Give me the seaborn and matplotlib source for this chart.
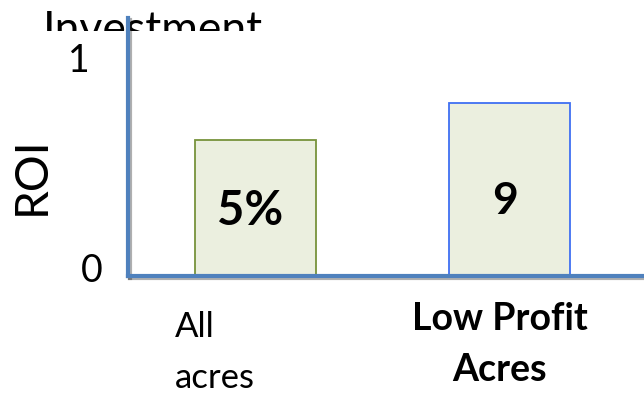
import matplotlib
matplotlib.use("Agg")
import matplotlib.pyplot as plt
import matplotlib.patheffects as pe
from matplotlib.transforms import ScaledTranslation, Bbox, TransformedBbox
import seaborn as sns
import pandas as pd

# ---- data ----
categories = ["All acres", "Low Profit Acres"]
tick_labels = ["All\nacres", "Low Profit\nAcres"]
roi_values = [0.62, 0.79]
bar_labels = ["5%", "9"]
ytick_values = [0, 1]
ytick_labels = ["0", "1"]

FILL = "#EBEFDF"
EDGES = ["#77933C", "#3F6FF2"]
AXIS = "#4F81BD"

sns.set_theme(style="white")
plt.rcParams["font.family"] = ["Lato", "DejaVu Sans"]

fig = plt.figure(figsize=(6.44, 3.94), dpi=100)
W, H = 644, 394
ax = fig.add_axes([128 / W, (H - 276) / H, (644 - 128) / W, (276 - 18) / H])
ax.patch.set_visible(False)

df = pd.DataFrame({"cat": categories, "roi": roi_values})
sns.barplot(data=df, x="cat", y="roi", hue="cat", palette=[FILL, FILL],
            width=0.475, legend=False, ax=ax, linewidth=1.3, saturation=1)
for p, ec in zip(ax.patches, EDGES):
    p.set_edgecolor(ec)
    p.set_linewidth(1.3)

ax.set_xlim(-0.501, 1.527)
ax.set_ylim(0, 258 / 219)

for s in ["top", "right"]:
    ax.spines[s].set_visible(False)
for s in ["left", "bottom"]:
    ax.spines[s].set_color(AXIS)
    ax.spines[s].set_linewidth(3)
    ax.spines[s].set_path_effects([pe.SimpleLineShadow(offset=(1.5, -1.5), alpha=0.35), pe.Normal()])
    ax.spines[s].set_zorder(3)

ax.set_xlabel("")
ax.set_ylabel("")

# y ticks
ax.set_yticks(ytick_values)
ax.set_yticklabels(ytick_labels, fontsize=27, color="black")
ax.tick_params(axis="both", length=0, pad=0)
yoffs = [(-25, 9), (-38, 0)]
for lbl, (dx, dy) in zip(ax.get_yticklabels(), yoffs):
    lbl.set_transform(lbl.get_transform() + ScaledTranslation(dx / 100, dy / 100, fig.dpi_scale_trans))

# x ticks
ax.set_xticks([0, 1])
ax.set_xticklabels(tick_labels, color="black")
xl = ax.get_xticklabels()
xl[0].set_fontsize(25)
xl[0].set_ha("left")
xl[0].set_multialignment("left")
xl[0].set_linespacing(1.75)
xl[0].set_transform(xl[0].get_transform() + ScaledTranslation(-80.5 / 100, -35 / 100, fig.dpi_scale_trans))
xl[1].set_fontsize(27)
xl[1].set_fontweight("bold")
xl[1].set_ha("center")
xl[1].set_multialignment("center")
xl[1].set_linespacing(1.6)
xl[1].set_transform(xl[1].get_transform() + ScaledTranslation(-10 / 100, -26 / 100, fig.dpi_scale_trans))

# bar value labels
bar_label_sizes = [34, 32]
bar_label_y_px = [211, 201]
for i, (txt, fs, ypx) in enumerate(zip(bar_labels, bar_label_sizes, bar_label_y_px)):
    ax.text(i - 0.02, 0, txt, fontsize=fs, fontweight="bold", ha="center", va="center",
            color="black",
            transform=ax.get_xaxis_transform() + ScaledTranslation(0, -(ypx - 276) / 100, fig.dpi_scale_trans),
            zorder=4)

# y label
fig.text(32 / W, 1 - 176 / H, "ROI", rotation=90, fontsize=33, ha="center", va="center", color="black")

# clipped top title
t = fig.text(153 / W, 1 - 10 / H, "Investment", fontsize=32, ha="center", va="top", color="black", zorder=-1)
t.set_clip_box(TransformedBbox(Bbox([[0, 1 - 31 / H], [1, 1]]), fig.transFigure))
t.set_clip_on(True)

fig.savefig("out.png", dpi=100)
